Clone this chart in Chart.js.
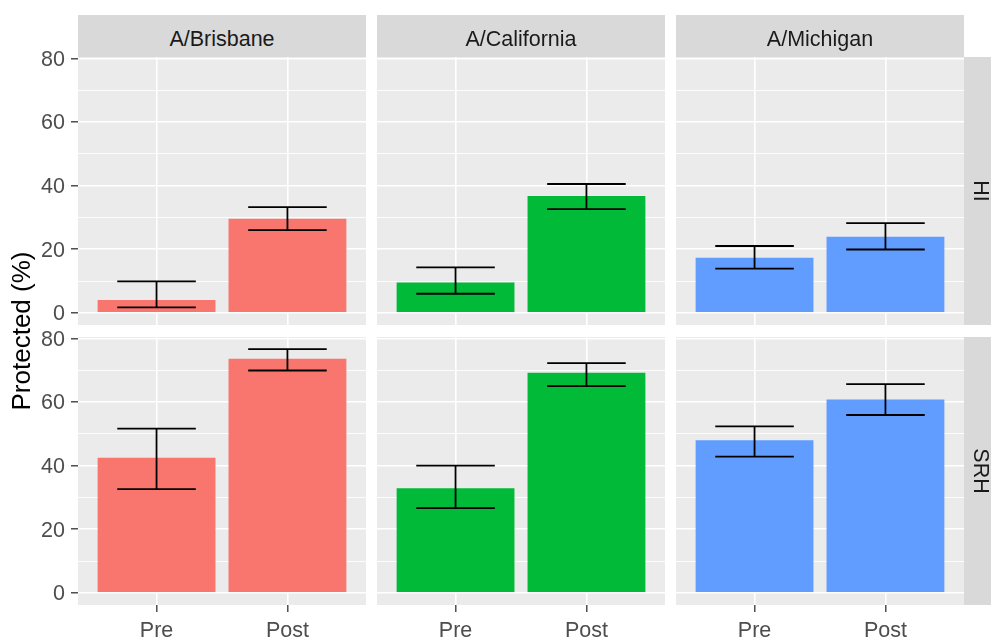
<!DOCTYPE html>
<html>
<head>
<meta charset="utf-8">
<script src="https://cdn.jsdelivr.net/npm/chart.js@4.4.0/dist/chart.umd.min.js"></script>
<style>
  html, body { margin: 0; padding: 0; background: #ffffff; }
  #fig { position: relative; width: 991px; height: 639px; overflow: hidden;
         font-family: 'Liberation Sans', Arial, sans-serif; }
  #fig canvas { position: absolute; left: 0; top: 0; }
  .strip { position: absolute; background: #d9d9d9; overflow: hidden; }
  .strip-label { position: absolute; color: #1a1a1a; font-size: 21.5px; text-align: center; white-space: nowrap; }
  .axis-title { position: absolute; color: #000000; font-size: 26px; text-align: center; white-space: nowrap; }
</style>
</head>
<body>
<div id="fig"></div>
<script>
// ---- data ----
const regions = ['A/Brisbane', 'A/California', 'A/Michigan'];
const measures = ['HI', 'SRH'];
const timepoints = ['Pre', 'Post'];
const fillColors = ['#F8766D', '#00BA38', '#619CFF'];

// HI: protected (%) per region, [Pre, Post]
const hiMean  = [[4.0, 29.6], [9.5, 36.7], [17.3, 23.9]];
const hiLower = [[1.7, 26.0], [6.0, 32.6], [13.9, 19.9]];
const hiUpper = [[9.9, 33.2], [14.3, 40.5], [21.0, 28.2]];

// SRH: protected (%) per region, [Pre, Post]
const srhMean  = [[42.5, 73.6], [32.9, 69.2], [48.0, 60.8]];
const srhLower = [[32.6, 69.9], [26.6, 65.0], [42.8, 55.9]];
const srhUpper = [[51.6, 76.6], [40.0, 72.2], [52.3, 65.6]];

const yMajor = [0, 20, 40, 60, 80];
const yMajorLabels = ['0', '20', '40', '60', '80'];
const yMinor = [10, 30, 50, 70];
const yTitle = 'Protected (%)';

const meanRows  = [hiMean, srhMean];
const lowerRows = [hiLower, srhLower];
const upperRows = [hiUpper, srhUpper];

// ---- layout ----
const W = 991, H = 639;
const colLeft = [78, 377, 676];
const panelW = 288;
const rowTop = [57, 337];
const panelH = 268;
const stripTop = 15, stripH = 42;
const yAxisW = 60, xAxisH = 34;

// shared y range with 5% expansion on both ends
const allLow = Math.min(0, ...lowerRows.flat(2));
const allHigh = Math.max(...upperRows.flat(2));
const span = allHigh - allLow;
const yMin = allLow - 0.05 * span;
const yMax = allHigh + 0.05 * span;

Chart.defaults.font.family = "'Liberation Sans', Arial, sans-serif";
Chart.defaults.font.size = 21;
Chart.defaults.color = '#4d4d4d';

const panelBackground = {
  id: 'panelBackground',
  beforeDraw(chart) {
    const a = chart.chartArea, ctx = chart.ctx;
    ctx.save();
    ctx.fillStyle = '#ebebeb';
    ctx.fillRect(a.left, a.top, a.right - a.left, a.bottom - a.top);
    ctx.restore();
  }
};

const errorBars = {
  id: 'errorBars',
  afterDatasetsDraw(chart, args, opts) {
    const xs = chart.scales.x, ys = chart.scales.y, ctx = chart.ctx;
    ctx.save();
    ctx.strokeStyle = opts.color;
    ctx.lineWidth = opts.lineWidth;
    ctx.lineCap = 'butt';
    opts.low.forEach((lo, i) => {
      const xv = i + 1;
      const px = xs.getPixelForValue(xv);
      const x0 = xs.getPixelForValue(xv - opts.width / 2);
      const x1 = xs.getPixelForValue(xv + opts.width / 2);
      const yLo = ys.getPixelForValue(lo);
      const yHi = ys.getPixelForValue(opts.high[i]);
      ctx.beginPath();
      ctx.moveTo(px, yHi); ctx.lineTo(px, yLo);
      ctx.moveTo(x0, yHi); ctx.lineTo(x1, yHi);
      ctx.moveTo(x0, yLo); ctx.lineTo(x1, yLo);
      ctx.stroke();
    });
    ctx.restore();
  }
};

const fig = document.getElementById('fig');

function makePanel(row, col) {
  const canvas = document.createElement('canvas');
  canvas.width = W; canvas.height = H;
  canvas.style.width = W + 'px'; canvas.style.height = H + 'px';
  fig.appendChild(canvas);

  const isLeft = col === 0, isBottom = row === 1;
  const left = colLeft[col], top = rowTop[row];
  const yw = isLeft ? yAxisW : 0;
  const xh = isBottom ? xAxisH : 0;

  new Chart(canvas, {
    type: 'bar',
    data: {
      datasets: [{
        data: timepoints.map((t, i) => ({ x: i + 1, y: meanRows[row][col][i] })),
        backgroundColor: fillColors[col],
        borderWidth: 0,
        barPercentage: 0.9,
        categoryPercentage: 1.0
      }]
    },
    options: {
      responsive: false,
      animation: false,
      devicePixelRatio: 1,
      events: [],
      layout: {
        padding: {
          left: left - yw,
          top: top,
          right: W - (left + panelW),
          bottom: H - (top + panelH) - xh
        }
      },
      plugins: {
        legend: { display: false },
        tooltip: { enabled: false },
        errorBars: {
          low: lowerRows[row][col],
          high: upperRows[row][col],
          width: 0.6,
          color: '#000000',
          lineWidth: 1.8
        }
      },
      scales: {
        x: {
          type: 'linear',
          min: 0.4,
          max: 2.6,
          offset: false,
          afterBuildTicks: s => { s.ticks = timepoints.map((t, i) => ({ value: i + 1 })); },
          afterFit: s => { s.height = xh; s.paddingLeft = 0; s.paddingRight = 0; },
          border: { display: false },
          grid: {
            offset: false,
            color: '#ffffff',
            lineWidth: 1.6,
            drawTicks: isBottom,
            tickLength: 7,
            tickColor: '#333333',
            tickWidth: 1.3
          },
          ticks: {
            display: isBottom,
            padding: 6,
            color: '#4d4d4d',
            font: { size: 21.5 },
            maxRotation: 0,
            autoSkip: false,
            callback: v => timepoints[v - 1]
          }
        },
        y: {
          type: 'linear',
          min: yMin,
          max: yMax,
          afterBuildTicks: s => {
            s.ticks = [...yMajor, ...yMinor].sort((a, b) => a - b).map(v => ({ value: v }));
          },
          afterFit: s => { s.width = yw; s.paddingTop = 0; s.paddingBottom = 0; },
          border: { display: false },
          grid: {
            color: '#ffffff',
            lineWidth: c => (yMinor.includes(c.tick && c.tick.value) ? 0.9 : 1.6),
            drawTicks: isLeft,
            tickLength: 7,
            tickColor: c => (yMinor.includes(c.tick && c.tick.value) ? 'rgba(0,0,0,0)' : '#333333'),
            tickWidth: 1.3
          },
          ticks: {
            display: isLeft,
            padding: 6,
            labelOffset: 1.5,
            color: '#4d4d4d',
            font: { size: 21.5 },
            autoSkip: false,
            callback: v => {
              const k = yMajor.indexOf(v);
              return k >= 0 ? yMajorLabels[k] : '';
            }
          }
        }
      }
    },
    plugins: [panelBackground, errorBars]
  });
}

for (let r = 0; r < measures.length; r++) {
  for (let c = 0; c < regions.length; c++) makePanel(r, c);
}

// facet strips along the top
regions.forEach((name, c) => {
  const s = document.createElement('div');
  s.className = 'strip';
  Object.assign(s.style, { left: colLeft[c] + 'px', top: stripTop + 'px', width: panelW + 'px', height: stripH + 'px' });
  const t = document.createElement('div');
  t.className = 'strip-label';
  t.textContent = name;
  Object.assign(t.style, { left: '0px', top: '3px', width: panelW + 'px', height: stripH + 'px', lineHeight: stripH + 'px' });
  s.appendChild(t);
  fig.appendChild(s);
});

// facet strips along the right side
const rightStripLeft = colLeft[2] + panelW;
measures.forEach((name, r) => {
  const s = document.createElement('div');
  s.className = 'strip';
  Object.assign(s.style, { left: rightStripLeft + 'px', top: rowTop[r] + 'px', width: stripH + 'px', height: panelH + 'px' });
  fig.appendChild(s);
  const t = document.createElement('div');
  t.className = 'strip-label';
  t.textContent = name;
  const cx = 980.6, cy = rowTop[r] + panelH / 2;
  Object.assign(t.style, {
    left: (cx - panelH / 2) + 'px', top: (cy - stripH / 2) + 'px',
    width: panelH + 'px', height: stripH + 'px', lineHeight: stripH + 'px',
    transform: 'rotate(90deg)', transformOrigin: '50% 50%'
  });
  fig.appendChild(t);
});

// y axis title, centred on the panel block
const yt = document.createElement('div');
yt.className = 'axis-title';
yt.textContent = yTitle;
const tcx = 21, tcy = (rowTop[0] + rowTop[1] + panelH) / 2;
Object.assign(yt.style, {
  left: (tcx - 150) + 'px', top: (tcy - 20) + 'px', width: '300px', height: '40px', lineHeight: '40px',
  transform: 'rotate(-90deg)', transformOrigin: '50% 50%'
});
fig.appendChild(yt);
</script>
</body>
</html>
